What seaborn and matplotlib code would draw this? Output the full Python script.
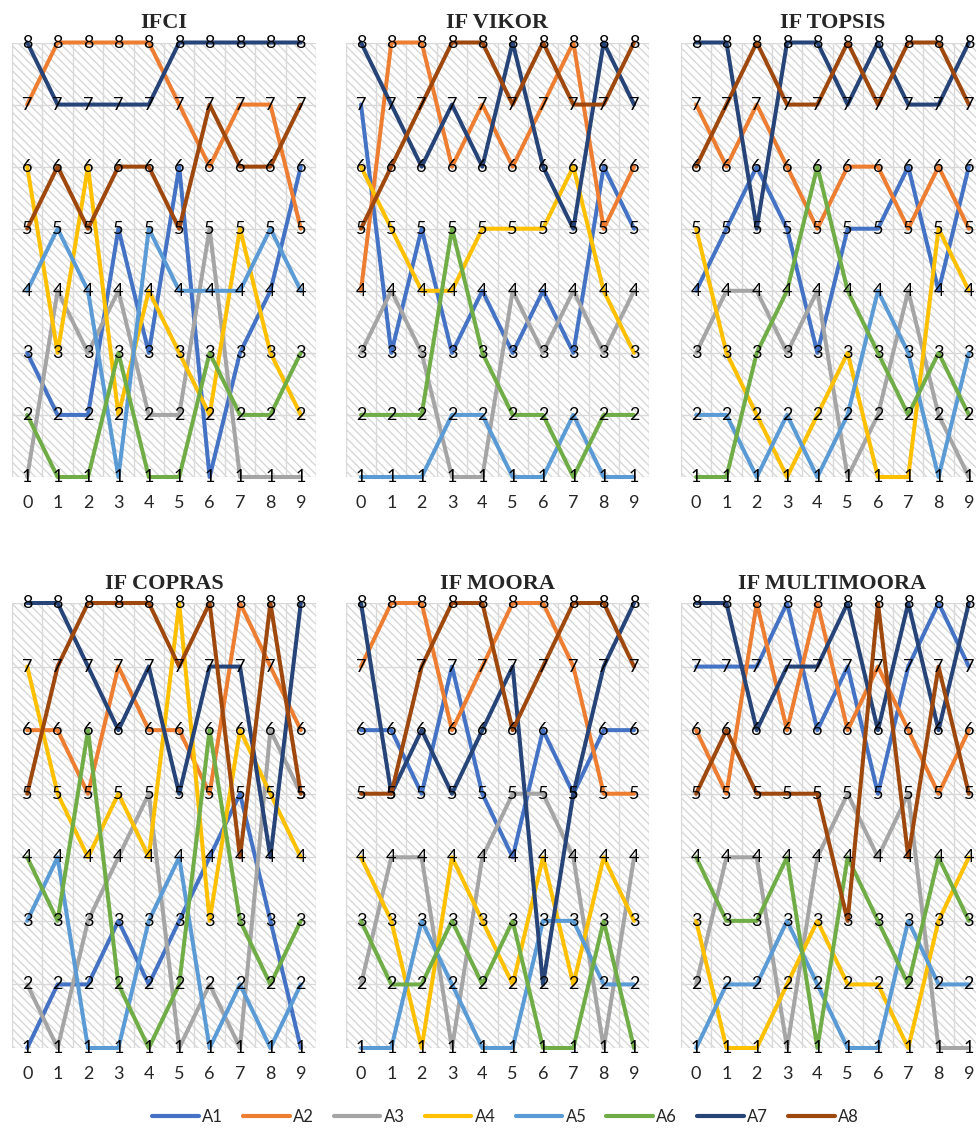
import numpy as np
import pandas as pd
import seaborn as sns
import matplotlib.pyplot as plt
from matplotlib.lines import Line2D
from matplotlib.patches import Rectangle

# alternatives and their colours (Office palette)
alts = ['A1', 'A2', 'A3', 'A4', 'A5', 'A6', 'A7', 'A8']
colors = ['#4472C4', '#ED7D31', '#A5A5A5', '#FFC000',
          '#5B9BD5', '#70AD47', '#264478', '#9E480E']
steps = list(range(10))

# ranks of A1..A8 over the 10 steps, one list per method
ifci = [[3, 2, 2, 5, 3, 6, 1, 3, 4, 6],
        [7, 8, 8, 8, 8, 7, 6, 7, 7, 5],
        [1, 4, 3, 4, 2, 2, 5, 1, 1, 1],
        [6, 3, 6, 2, 4, 3, 2, 5, 3, 2],
        [4, 5, 4, 1, 5, 4, 4, 4, 5, 4],
        [2, 1, 1, 3, 1, 1, 3, 2, 2, 3],
        [8, 7, 7, 7, 7, 8, 8, 8, 8, 8],
        [5, 6, 5, 6, 6, 5, 7, 6, 6, 7]]

if_vikor = [[7, 3, 5, 3, 4, 3, 4, 3, 6, 5],
            [4, 8, 8, 6, 7, 6, 7, 8, 5, 6],
            [3, 4, 3, 1, 1, 4, 3, 4, 3, 4],
            [6, 5, 4, 4, 5, 5, 5, 6, 4, 3],
            [1, 1, 1, 2, 2, 1, 1, 2, 1, 1],
            [2, 2, 2, 5, 3, 2, 2, 1, 2, 2],
            [8, 7, 6, 7, 6, 8, 6, 5, 8, 7],
            [5, 6, 7, 8, 8, 7, 8, 7, 7, 8]]

if_topsis = [[4, 5, 6, 5, 3, 5, 5, 6, 4, 6],
             [7, 6, 7, 6, 5, 6, 6, 5, 6, 5],
             [3, 4, 4, 3, 4, 1, 2, 4, 2, 1],
             [5, 3, 2, 1, 2, 3, 1, 1, 5, 4],
             [2, 2, 1, 2, 1, 2, 4, 3, 1, 3],
             [1, 1, 3, 4, 6, 4, 3, 2, 3, 2],
             [8, 8, 5, 8, 8, 7, 8, 7, 7, 8],
             [6, 7, 8, 7, 7, 8, 7, 8, 8, 7]]

if_copras = [[1, 2, 2, 3, 2, 3, 4, 5, 3, 1],
             [6, 6, 5, 7, 6, 6, 5, 8, 7, 6],
             [2, 1, 3, 4, 5, 1, 2, 1, 6, 5],
             [7, 5, 4, 5, 4, 8, 3, 6, 5, 4],
             [3, 4, 1, 1, 3, 4, 1, 2, 1, 2],
             [4, 3, 6, 2, 1, 2, 6, 3, 2, 3],
             [8, 8, 7, 6, 7, 5, 7, 7, 4, 8],
             [5, 7, 8, 8, 8, 7, 8, 4, 8, 5]]

if_moora = [[6, 6, 5, 7, 5, 4, 6, 5, 6, 6],
            [7, 8, 8, 6, 7, 8, 8, 7, 5, 5],
            [2, 4, 4, 1, 4, 5, 5, 4, 1, 4],
            [4, 3, 1, 4, 3, 2, 4, 2, 4, 3],
            [1, 1, 3, 2, 1, 1, 3, 3, 2, 2],
            [3, 2, 2, 3, 2, 3, 1, 1, 3, 1],
            [8, 5, 6, 5, 6, 7, 2, 5, 7, 8],
            [5, 5, 7, 8, 8, 6, 7, 8, 8, 7]]

if_multimoora = [[7, 7, 7, 8, 6, 7, 5, 7, 8, 7],
                 [6, 5, 8, 6, 8, 6, 7, 6, 5, 6],
                 [2, 4, 4, 1, 4, 5, 4, 5, 1, 1],
                 [3, 1, 1, 2, 3, 2, 2, 1, 3, 4],
                 [1, 2, 2, 3, 2, 1, 1, 3, 2, 2],
                 [4, 3, 3, 4, 1, 4, 3, 2, 4, 3],
                 [8, 8, 6, 7, 7, 8, 6, 8, 6, 8],
                 [5, 6, 5, 5, 5, 3, 8, 4, 7, 5]]

titles = ['IFCI', 'IF VIKOR', 'IF TOPSIS', 'IF COPRAS', 'IF MOORA', 'IF MULTIMOORA']
panels = [ifci, if_vikor, if_topsis, if_copras, if_moora, if_multimoora]

sns.set_style('white')
plt.rcParams['font.family'] = ['Lato', 'DejaVu Sans']
plt.rcParams['hatch.linewidth'] = 0.9

W, H = 976, 1128
fig = plt.figure(figsize=(W / 100, H / 100), dpi=100)

# plot-area boxes in pixels (left, right) and (top, bottom)
cols = [(12, 316), (345.8, 649.2), (681, 984)]
rows = [(42.5, 477), (603, 1048)]
grid_c = '#d9d9d9'

for i, (name, ranks) in enumerate(zip(titles, panels)):
    l, r = cols[i % 3]
    t, b = rows[i // 3]
    ax = fig.add_axes([l / W, 1 - b / H, (r - l) / W, (b - t) / H])

    df = pd.DataFrame([(a, s, v) for a, row in zip(alts, ranks) for s, v in zip(steps, row)],
                      columns=['alt', 'step', 'rank'])

    # hatched plot area
    ax.add_patch(Rectangle((0, 0), 1, 1, transform=ax.transAxes, facecolor='white',
                           edgecolor='#d4d4d4', hatch='\\\\\\\\', linewidth=0, zorder=0))
    sns.lineplot(data=df, x='step', y='rank', hue='alt', palette=colors,
                 linewidth=2.9, legend=False, ax=ax, zorder=2, clip_on=False)
    # data labels centred on the points
    for _, row in df.iterrows():
        ax.text(row['step'], row['rank'], str(row['rank']), ha='center', va='center',
                fontsize=13, color='black', zorder=5)

    ax.set_xlim(-0.5, 9.5)
    ax.set_ylim(1, 8)
    ax.set_xticks(steps)
    ax.set_xticks(np.arange(-0.5, 10, 1), minor=True)
    ax.set_yticks(range(1, 9))
    ax.grid(which='minor', axis='x', color=grid_c, linewidth=1, zorder=1)
    ax.grid(which='major', axis='y', color=grid_c, linewidth=1, zorder=1)
    ax.grid(which='major', axis='x', visible=False)
    ax.set_axisbelow(True)
    ax.tick_params(axis='x', which='both', length=0, pad=13, labelsize=13)
    ax.tick_params(axis='y', left=False, labelleft=False)
    ax.set_xlabel('')
    ax.set_ylabel('')
    for sp in ax.spines.values():
        sp.set_visible(False)

    fig.text((l + r) / 2 / W, 1 - (t - 14) / H, name, ha='center', va='baseline',
             fontsize=16, fontweight='bold', family='Liberation Serif')

handles = [Line2D([0], [0], color=c, linewidth=3) for c in colors]
fig.legend(handles, alts, loc='center', bbox_to_anchor=(0.518, 1 - 1117 / H), ncol=8,
           frameon=False, fontsize=12, handlelength=2.8, handletextpad=0.2,
           columnspacing=1.2)

fig.savefig('out.png', dpi=100)
